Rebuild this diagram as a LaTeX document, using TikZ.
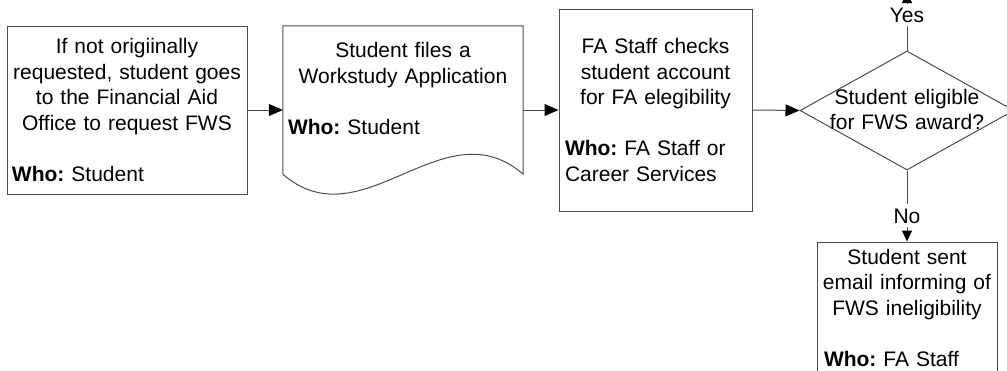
\documentclass[tikz,border=0pt]{standalone}
\usepackage{fontspec}
\setmainfont{Liberation Sans}
\usetikzlibrary{positioning,shapes.geometric,arrows.meta}

\begin{document}
\begin{tikzpicture}[x=1pt, y=-1pt,
    every node/.style={font=\fontsize{21}{25.5}\selectfont\frenchspacing},
    box/.style={draw=black!70, line width=1pt, rectangle, inner ysep=0pt},
    decbox/.style={draw=black!70, line width=1pt, diamond, inner sep=0pt, minimum width=214pt, minimum height=119pt},
    flow/.style={draw=black!70, line width=1pt, -{Triangle[length=14pt,width=12pt,black]}},
    flowsmall/.style={draw=black!70, line width=1pt, -{Triangle[length=11pt,width=10pt,black]}},
    answer/.style={fill=white, inner sep=4pt, anchor=base}]
    \useasboundingbox (0,0) rectangle (1007,370);

    % Bloki
    \node[box, text width=230pt, inner xsep=5pt, minimum height=168pt] (request) at (127,110)
        {\centering If not origiinally\\requested, student goes\\to the Financial Aid\\Office to request FWS\par
         \vspace{25.5pt}\raggedright\textbf{Who:} Student};

    \node[minimum width=240pt, minimum height=148pt, inner sep=0pt] (apply) at (403,100) {};
    \draw[draw=black!70, line width=1pt] (apply.south west) -- (apply.north west) -- (apply.north east) -- (apply.south east)
        .. controls +(-80,-69) and +(80,69) .. (apply.south west);
    \node[text width=230pt, inner sep=0pt, anchor=base] (applytext) at (403,57.5)
        {\centering Student files a\\Workstudy Application\par
         \vspace{25.5pt}\raggedright\textbf{Who:} Student};

    \node[box, text width=181pt, inner xsep=6pt, minimum height=202pt] (check) at (655.5,110)
        {\centering FA Staff checks\\student account\\for FA elegibility\par
         \vspace{25.5pt}\raggedright\textbf{Who:} FA Staff or\\Career Services};

    \node[decbox] (eligible) at (907,110.5) {};
    \node[text width=160pt, inner sep=0pt, align=center, anchor=base] (eligibletext) at (907,104)
        {Student eligible\\for FWS award?};

    \node[box, text width=174pt, inner xsep=3pt, minimum height=131pt] (notify) at (907,307.5)
        {\centering Student sent\\email informing of\\FWS ineligibility\par
         \vspace{25.5pt}\hspace*{4pt}\textbf{Who:} FA Staff\hfill\null};

    \node[answer] (yes) at (907,22) {Yes};
    \node[answer] (no) at (907,223) {No};
    \coordinate (yesend) at (907,-8);

    % Strzałki
    \draw[flow] (request.east) -- (request.east -| apply.west);
    \draw[flow] (apply.east |- check.west) -- (check.west);
    \draw[flow] (check.east) -- (eligible.west);
    \draw[flowsmall] (eligible.north) -- (yes) -- (yesend);
    \draw[flowsmall] (eligible.south) -- (no) -- (notify);
\end{tikzpicture}
\end{document}
